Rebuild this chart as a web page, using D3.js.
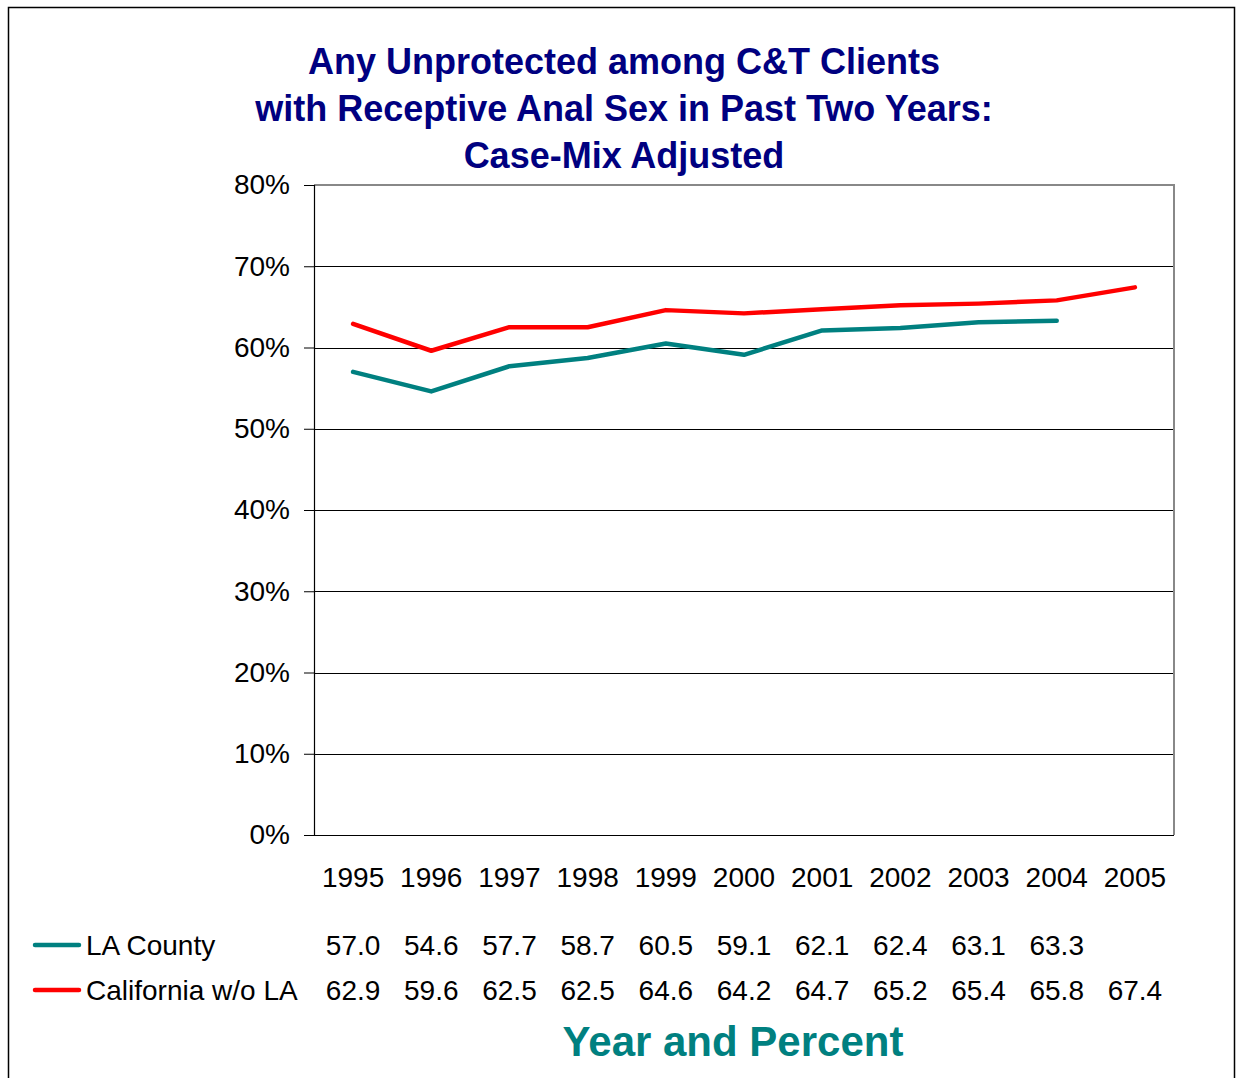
<!DOCTYPE html>
<html><head><meta charset="utf-8">
<script src="https://cdn.jsdelivr.net/npm/d3@7"></script>
<style>body{margin:0;background:#fff}svg{display:block}</style>
</head><body>
<svg id="c" width="1236" height="1078"></svg>
<script>
const years = ["1995","1996","1997","1998","1999","2000","2001","2002","2003","2004","2005"];
const laCounty = [57.0,54.6,57.7,58.7,60.5,59.1,62.1,62.4,63.1,63.3,null];
const california = [62.9,59.6,62.5,62.5,64.6,64.2,64.7,65.2,65.4,65.8,67.4];
const seriesNames = ["LA County","California w/o LA"];
const seriesColors = ["#008080","#FF0000"];
const yTicks = [0,10,20,30,40,50,60,70,80];
const titleLines = ["Any Unprotected among C&T Clients","with Receptive Anal Sex in Past Two Years:","Case-Mix Adjusted"];
const xTitle = "Year and Percent";

const svg = d3.select("#c");
const font = "Arial, 'Liberation Sans', sans-serif";
const L = 314, R = 1174, T = 185, B = 835;

svg.append("rect").attr("x",8.5).attr("y",7.5).attr("width",1226).attr("height",1100)
  .attr("fill","none").attr("stroke","#000").attr("stroke-width",1.5);

const x = d3.scaleBand().domain(years).range([L,R]);
const y = d3.scaleLinear().domain([0,80]).range([B,T]);

// grid
svg.append("g").selectAll("line").data(yTicks.filter(d=>d>0&&d<80)).join("line")
  .attr("x1",L).attr("x2",R).attr("y1",d=>Math.round(y(d))+0.5).attr("y2",d=>Math.round(y(d))+0.5)
  .attr("stroke","#000").attr("stroke-width",1);
// plot border top & right
svg.append("path").attr("d",`M${L},${T}H${R}V${B}`).attr("fill","none").attr("stroke","#888").attr("stroke-width",2);

// y axis
const yAxis = d3.axisLeft(y).tickValues(yTicks).tickFormat(d=>d+"%").tickSize(10).tickPadding(14);
const ga = svg.append("g").attr("transform",`translate(${L},0)`).call(yAxis);
ga.select(".domain").attr("stroke","#000").attr("stroke-width",1.2);
ga.selectAll(".tick line").attr("stroke","#000");
ga.selectAll("text").attr("font-family",font).attr("font-size",28).attr("fill","#000");
// x axis baseline
svg.append("line").attr("x1",L).attr("x2",R).attr("y1",B+0.5).attr("y2",B+0.5).attr("stroke","#000").attr("stroke-width",1.2);

// x labels
svg.append("g").selectAll("text").data(years).join("text")
  .attr("x",d=>x(d)+x.bandwidth()/2).attr("y",887).attr("text-anchor","middle")
  .attr("font-family",font).attr("font-size",28).text(d=>d);

// lines
const series = [laCounty, california];
const line = d3.line().defined(d=>d.v!=null).x(d=>x(d.k)+x.bandwidth()/2).y(d=>y(d.v));
series.forEach((s,i)=>{
  const data = years.map((k,j)=>({k, v:s[j]}));
  svg.append("path").datum(data).attr("d",line).attr("fill","none")
    .attr("stroke",seriesColors[i]).attr("stroke-width",4.5).attr("stroke-linejoin","round").attr("stroke-linecap","round");
});

// data table
const rowY = [945, 990];
series.forEach((s,i)=>{
  svg.append("line").attr("x1",35).attr("x2",79).attr("y1",rowY[i]).attr("y2",rowY[i])
    .attr("stroke",seriesColors[i]).attr("stroke-width",4.5).attr("stroke-linecap","round");
  svg.append("text").attr("x",86).attr("y",rowY[i]+10).attr("font-family",font).attr("font-size",28).text(seriesNames[i]);
  svg.append("g").selectAll("text").data(years.map((k,j)=>({k,v:s[j]})).filter(d=>d.v!=null)).join("text")
    .attr("x",d=>x(d.k)+x.bandwidth()/2).attr("y",rowY[i]+10).attr("text-anchor","middle")
    .attr("font-family",font).attr("font-size",28).text(d=>d.v.toFixed(1));
});

// title
svg.append("g").selectAll("text").data(titleLines).join("text")
  .attr("x",624).attr("y",(d,i)=>74+i*47).attr("text-anchor","middle")
  .attr("font-family",font).attr("font-weight","bold").attr("font-size",36).attr("fill","#000080").text(d=>d);

svg.append("text").attr("x",733).attr("y",1056).attr("text-anchor","middle")
  .attr("font-family",font).attr("font-weight","bold").attr("font-size",42).attr("fill","#008080").text(xTitle);
</script>
</body></html>
